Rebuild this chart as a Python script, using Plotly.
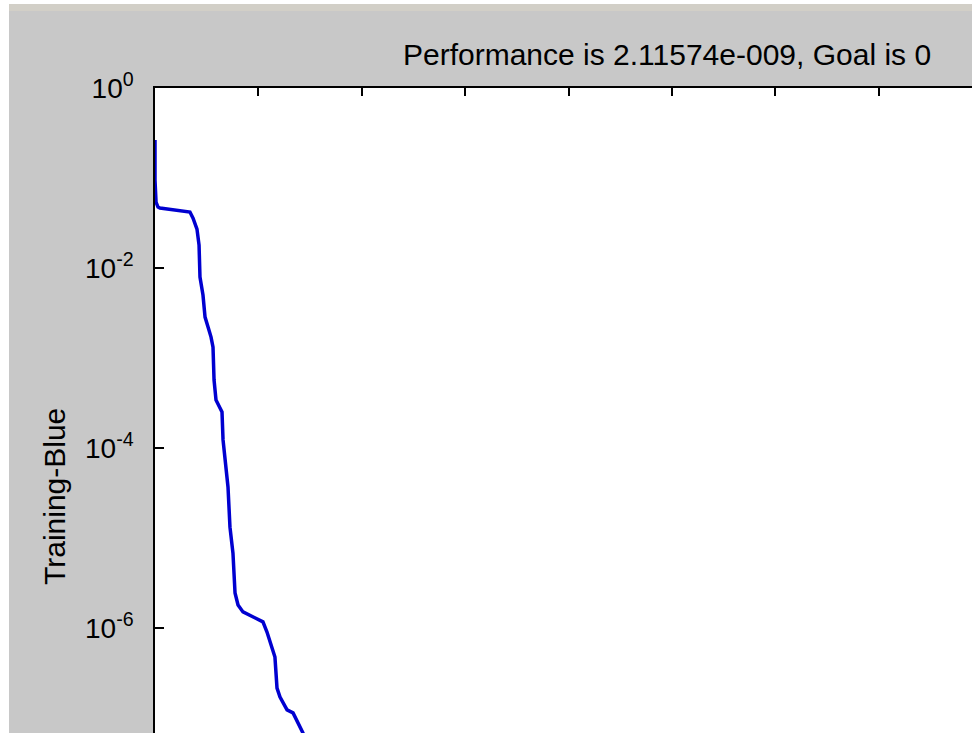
import plotly.graph_objects as go

# Data (epochs, training performance)
epochs = [0, 0, 1.0, 2.9, 4.8, 22.2, 33.8, 36.8, 40.6, 42.6, 43.5, 46.4, 48.4, 51.3,
          54.2, 56.1, 57.1, 59.0, 64.8, 65.8, 68.7, 70.6, 72.5, 75.4, 77.4, 80.3,
          85.1, 94.8, 104.4, 108.3, 113.1, 116.0, 118.0, 120.9, 127.7, 133.5, 143.1, 146.0]
performance = [0.264, 0.0950, 0.0541, 0.0476, 0.0464, 0.0441, 0.0419, 0.0359, 0.0271,
               0.0180, 0.00794, 0.00501, 0.00285, 0.00221, 0.00171, 0.00132, 5.70e-4,
               3.41e-4, 2.51e-4, 1.23e-4, 6.15e-5, 3.69e-5, 1.32e-5, 6.81e-6, 2.45e-6,
               1.80e-6, 1.51e-6, 1.32e-6, 1.17e-6, 9.03e-7, 6.00e-7, 4.76e-7, 2.15e-7,
               1.71e-7, 1.23e-7, 1.14e-7, 6.81e-8, 5.41e-8]

y_tickvals = [1, 1e-2, 1e-4, 1e-6]
y_ticktext = ["10<sup>0</sup>", "10<sup>-2</sup>", "10<sup>-4</sup>", "10<sup>-6</sup>"]

title_text = "Performance is 2.11574e-009, Goal is 0"
ylabel_text = "Training-Blue"

FONT = "Liberation Sans, Arial, sans-serif"

fig = go.Figure()
fig.add_trace(go.Scatter(x=epochs, y=performance, mode="lines",
                         line=dict(color="#0000d0", width=3.5), showlegend=False,
                         hoverinfo="skip"))

L, T, W, H = 155, 88, 972, 733
pw, ph = W - L, H - T

fig.update_layout(
    width=W, height=H,
    margin=dict(l=L, r=0, t=T, b=0, pad=0),
    paper_bgcolor="#c8c8c8",
    plot_bgcolor="#ffffff",
    xaxis=dict(range=[0, pw / 103.4 * 100], side="top", ticks="inside", ticklen=8,
               tickcolor="#000", tickwidth=1.5, dtick=100, tick0=0,
               showticklabels=False, showline=True, linecolor="#000", linewidth=1.5,
               showgrid=False, zeroline=False, mirror=False),
    yaxis=dict(type="log", range=[-ph / 90.0, 0.0005], tickvals=y_tickvals,
               ticktext=y_ticktext, ticks="inside", ticklen=9, tickcolor="#000",
               tickwidth=1.5, showline=True, linecolor="#000", linewidth=1.5,
               showgrid=False, zeroline=False, mirror=False,
               tickfont=dict(family=FONT, size=28, color="#000"),
               ticklabelstandoff=14),
    annotations=[
        dict(text=title_text, xref="paper", yref="paper",
             x=(667 - L) / pw, y=1 + (T - 54) / ph, xanchor="center", yanchor="middle",
             showarrow=False, font=dict(family=FONT, size=30, color="#000")),
        dict(text=ylabel_text, xref="paper", yref="paper", textangle=-90,
             x=(55 - L) / pw, y=1 - (497 - T) / ph, xanchor="center", yanchor="middle",
             showarrow=False, font=dict(family=FONT, size=30, color="#000")),
    ],
    shapes=[
        dict(type="rect", xref="paper", yref="paper", layer="above",
             x0=-L / pw, x1=(9 - L) / pw, y0=1 + T / ph - H / ph, y1=1 + T / ph,
             fillcolor="#ffffff", line=dict(width=0)),
        dict(type="rect", xref="paper", yref="paper", layer="above",
             x0=-L / pw, x1=1, y0=1 + (T - 4) / ph, y1=1 + T / ph,
             fillcolor="#ffffff", line=dict(width=0)),
        dict(type="rect", xref="paper", yref="paper", layer="above",
             x0=(9 - L) / pw, x1=1, y0=1 + (T - 11) / ph, y1=1 + (T - 4) / ph,
             fillcolor="#d2cfc7", line=dict(width=0)),
    ],
)

fig.write_html("out.html")
